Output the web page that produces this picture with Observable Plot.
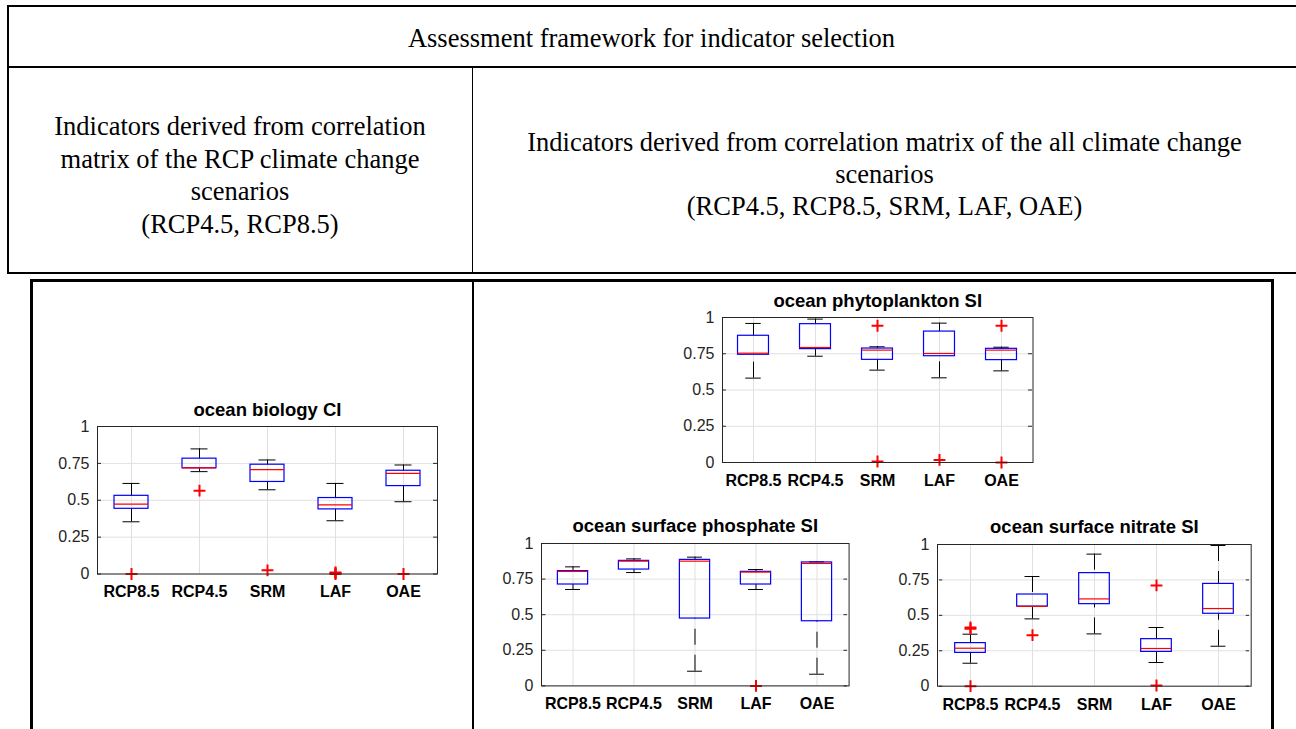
<!DOCTYPE html>
<html>
<head>
<meta charset="utf-8">
<script src="https://cdn.jsdelivr.net/npm/d3@7"></script>
<script src="https://cdn.jsdelivr.net/npm/@observablehq/plot@0.6"></script>
<style>
  html, body { margin: 0; padding: 0; background: #fff; }
  body { width: 1296px; height: 729px; position: relative; overflow: hidden; }
  .ln { position: absolute; background: #000; }
  .cell { position: absolute; font-family: "Liberation Serif", "Times New Roman", serif; font-size: 26.5px; color: #000; text-align: center; white-space: nowrap; }
  .panel { position: absolute; }
  .panel svg { overflow: visible; background: transparent; }
  .panel g[aria-label^="x-axis"] text { font-weight: bold; font-size: 16px; fill: #000; }
  .panel g[aria-label^="y-axis"] text { font-size: 16px; fill: #262626; }
</style>
</head>
<body>
<!-- header table -->
<div class="ln" style="left:7px; top:5px; width:1300px; height:2px;"></div>
<div class="ln" style="left:7px; top:5px; width:2px; height:269px;"></div>
<div class="ln" style="left:7px; top:66px; width:1300px; height:2px;"></div>
<div class="ln" style="left:7px; top:272px; width:1300px; height:2px;"></div>
<div class="ln" style="left:472px; top:67px; width:1px; height:206px;"></div>
<div class="cell" style="left:7px; width:1289px; top:22px; line-height:32px;">Assessment framework for indicator selection</div>
<div class="cell" style="left:8px; width:464px; top:110px; line-height:32.7px;">Indicators derived from correlation<br>matrix of the RCP climate change<br>scenarios<br>(RCP4.5, RCP8.5)</div>
<div class="cell" style="left:473px; width:823px; top:126px; line-height:32px;">Indicators derived from correlation matrix of the all climate change<br>scenarios<br>(RCP4.5, RCP8.5, SRM, LAF, OAE)</div>
<!-- lower box -->
<div class="ln" style="left:30px; top:279px; width:1244px; height:3px;"></div>
<div class="ln" style="left:30px; top:279px; width:3px; height:460px;"></div>
<div class="ln" style="left:1271px; top:279px; width:3px; height:460px;"></div>
<div class="ln" style="left:472px; top:280px; width:2px; height:460px;"></div>

<script>
const scenarios = ["RCP8.5", "RCP4.5", "SRM", "LAF", "OAE"];
const yTicks = [0, 0.25, 0.5, 0.75, 1];

// ocean biology CI
const bioHi  = [0.614, 0.848, 0.773, 0.614, 0.739];
const bioQ3  = [0.530, 0.782, 0.741, 0.515, 0.700];
const bioMed = [0.474, 0.719, 0.707, 0.469, 0.682];
const bioQ1  = [0.442, 0.717, 0.624, 0.438, 0.596];
const bioLo  = [0.354, 0.694, 0.571, 0.361, 0.490];
const bioOut = [["RCP8.5", 0], ["RCP4.5", 0.565], ["SRM", 0.025], ["LAF", 0], ["LAF", 0.006], ["LAF", 0.011], ["OAE", 0]];

// ocean phytoplankton SI
const phyHi  = [0.959, 0.989, 0.798, 0.961, 0.795];
const phyQ3  = [0.874, 0.954, 0.786, 0.903, 0.784];
const phyMed = [0.754, 0.793, 0.775, 0.752, 0.775];
const phyQ1  = [0.743, 0.782, 0.708, 0.733, 0.706];
const phyLo  = [0.582, 0.733, 0.637, 0.584, 0.632];
const phyOut = [["SRM", 0.943], ["SRM", 0.007], ["LAF", 0.018], ["OAE", 0.943], ["OAE", 0]];

// ocean surface phosphate SI
const phoHi  = [0.836, 0.892, 0.904, 0.817, 0.871];
const phoQ3  = [0.806, 0.878, 0.885, 0.801, 0.867];
const phoMed = [0.804, 0.876, 0.876, 0.799, 0.860];
const phoQ1  = [0.712, 0.817, 0.473, 0.712, 0.454];
const phoLo  = [0.677, 0.796, 0.103, 0.677, 0.082];
const phoOut = [["LAF", 0]];

// ocean surface nitrate SI
const nitHi  = [0.367, 0.774, 0.932, 0.414, 0.993];
const nitQ3  = [0.304, 0.647, 0.798, 0.332, 0.722];
const nitMed = [0.268, 0.563, 0.616, 0.266, 0.548];
const nitQ1  = [0.235, 0.562, 0.579, 0.242, 0.511];
const nitLo  = [0.162, 0.475, 0.369, 0.167, 0.282];
const nitOut = [["RCP8.5", 0.405], ["RCP8.5", 0.415], ["RCP8.5", 0], ["RCP4.5", 0.36], ["LAF", 0.711], ["LAF", 0.005]];

const ML = 50, MR = 10, MT = 32, MB = 40;

function panel(title, hi, q3, med, q1, lo, outliers, fx, fy, fw, fh) {
  const rows = scenarios.map((s, i) => ({s, hi: hi[i], q3: q3[i], med: med[i], q1: q1[i], lo: lo[i]}));
  const bw = fw / scenarios.length;
  const chart = Plot.plot({
    width: fw + ML + MR,
    height: fh + MT + MB,
    marginLeft: ML, marginRight: MR, marginTop: MT, marginBottom: MB,
    style: {background: "transparent", fontFamily: "'Liberation Sans', Arial, Helvetica, sans-serif", overflow: "visible"},
    x: {type: "band", domain: scenarios, padding: 0, label: null, tickSize: 0, tickPadding: 12},
    y: {domain: [0, 1], ticks: yTicks, tickFormat: d => String(d), label: null, tickSize: 0, tickPadding: 8},
    marks: [
      Plot.ruleY(yTicks, {y: d => d, stroke: "#e0e0e0"}),
      Plot.ruleX(scenarios, {x: d => d, stroke: "#e0e0e0"}),
      // inward ticks
      Plot.tickY(yTicks, {y: d => d, x: () => scenarios[0], insetRight: bw - 4, stroke: "#262626"}),
      Plot.tickY(yTicks, {y: d => d, x: () => scenarios[scenarios.length - 1], insetLeft: bw - 4, stroke: "#262626"}),
      // whiskers
      Plot.ruleX(rows, {x: "s", y1: "hi", y2: "q3", stroke: "#000", strokeDasharray: "16,10"}),
      Plot.ruleX(rows, {x: "s", y1: "lo", y2: "q1", stroke: "#000", strokeDasharray: "16,10"}),
      Plot.tickY(rows, {x: "s", y: "hi", stroke: "#000", insetLeft: bw * 3 / 8, insetRight: bw * 3 / 8}),
      Plot.tickY(rows, {x: "s", y: "lo", stroke: "#000", insetLeft: bw * 3 / 8, insetRight: bw * 3 / 8}),
      // boxes
      Plot.barY(rows, {x: "s", y1: "q1", y2: "q3", fill: "none", stroke: "#0000ff", strokeWidth: 1.2, insetLeft: bw / 4, insetRight: bw / 4}),
      Plot.tickY(rows, {x: "s", y: "med", stroke: "#ff0000", strokeWidth: 1.2, insetLeft: bw / 4, insetRight: bw / 4}),
      // outliers
      Plot.dot(outliers, {x: d => d[0], y: d => d[1], symbol: "plus", r: 3.9, stroke: "#ff0000", strokeWidth: 2}),
      Plot.frame({stroke: "#262626", strokeWidth: 1}),
      Plot.text([title], {frameAnchor: "top", dy: -11, lineAnchor: "bottom", text: d => d, fontWeight: "bold", fontSize: 18.5, fill: "#000"})
    ]
  });
  const div = document.createElement("div");
  div.className = "panel";
  div.style.left = (fx - ML) + "px";
  div.style.top = (fy - MT) + "px";
  div.appendChild(chart);
  document.body.appendChild(div);
  return chart;
}

panel("ocean biology CI", bioHi, bioQ3, bioMed, bioQ1, bioLo, bioOut, 97, 425.5, 340, 147.5);
panel("ocean phytoplankton SI", phyHi, phyQ3, phyMed, phyQ1, phyLo, phyOut, 721.5, 316.7, 310.5, 145);
panel("ocean surface phosphate SI", phoHi, phoQ3, phoMed, phoQ1, phoLo, phoOut, 540.7, 543.3, 307.6, 142.4);
panel("ocean surface nitrate SI", nitHi, nitQ3, nitMed, nitQ1, nitLo, nitOut, 937.3, 544, 313.7, 141.7);
</script>
</body>
</html>
